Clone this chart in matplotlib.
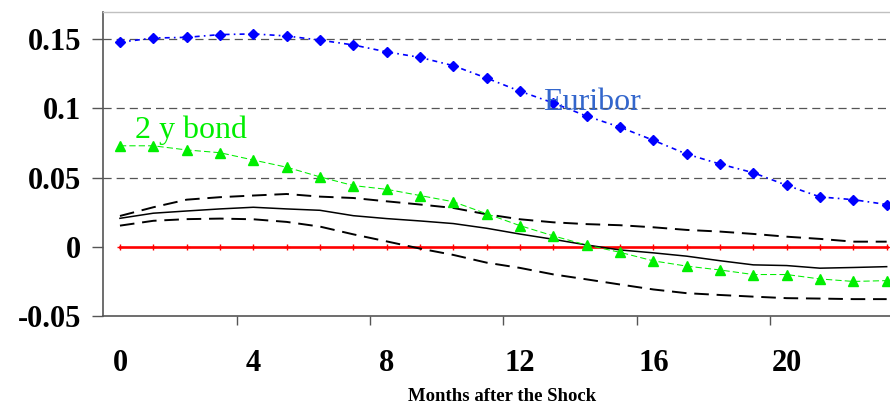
import matplotlib
matplotlib.use("Agg")
import matplotlib.pyplot as plt
import numpy as np

# Impulse responses over the 24 months following the shock
months = list(range(24))
x_tick_labels = ["0", "4", "8", "12", "16", "20"]
y_ticks = [-0.05, 0.0, 0.05, 0.1, 0.15]
y_tick_labels = ["-0.05", "0", "0.05", "0.1", "0.15"]

euribor = [0.148, 0.151, 0.1515, 0.1535, 0.154, 0.1525, 0.1495, 0.146, 0.141, 0.137,
           0.131, 0.122, 0.1125, 0.104, 0.0945, 0.0865, 0.077, 0.067, 0.0598, 0.0535,
           0.0444, 0.036, 0.034, 0.0305]
bond_2y = [0.073, 0.073, 0.070, 0.068, 0.0627, 0.0575, 0.0505, 0.0442, 0.0415, 0.037,
           0.0325, 0.0238, 0.0152, 0.0078, 0.0011, -0.0041, -0.0103, -0.0141, -0.0169,
           -0.0202, -0.0202, -0.0234, -0.0252, -0.0246]
response = [0.0205, 0.0242, 0.0258, 0.0273, 0.0285, 0.0273, 0.0263, 0.0224, 0.0203,
            0.0186, 0.0167, 0.0133, 0.0091, 0.0053, 0.0012, -0.0024, -0.0045, -0.0069,
            -0.0102, -0.0132, -0.0137, -0.0156, -0.0151, -0.0145]
upper_band = [0.0222, 0.0285, 0.034, 0.0358, 0.037, 0.0381, 0.0362, 0.0352, 0.0328,
              0.0305, 0.028, 0.0234, 0.0198, 0.0176, 0.0163, 0.0155, 0.014, 0.0121,
              0.0109, 0.0092, 0.0072, 0.0056, 0.0036, 0.0036]
lower_band = [0.0152, 0.0187, 0.0199, 0.0203, 0.0198, 0.0179, 0.0145, 0.0089, 0.0038,
              -0.0014, -0.006, -0.0116, -0.0154, -0.0201, -0.0237, -0.0274, -0.031,
              -0.0337, -0.035, -0.0362, -0.0373, -0.0376, -0.038, -0.038]
zero_line = [0.0] * 24

plt.rcParams["font.family"] = ["Liberation Serif", "DejaVu Serif"]

fig = plt.figure(figsize=(8.9, 4.07), dpi=100)
ax = fig.add_axes([103.3 / 890, (407 - 315.7) / 407, 1 - 103.3 / 890, (315.7 - 11.8) / 407])

ax.set_xlim(-0.5, 23.1)
ax.set_ylim(-0.05, 0.17)

# dashed horizontal gridlines
for yv in [0.05, 0.1, 0.15]:
    ax.axhline(yv, color="#555555", lw=0.9, linestyle=(0, (6.5, 4)), zorder=1)

ax.plot(months, zero_line, color="#ff0000", lw=1.9, marker="+", ms=4.5, mew=1.0, zorder=2)
ax.plot(months, upper_band, color="black", lw=1.4, linestyle=(0, (7.5, 4)), zorder=3)
ax.plot(months, lower_band, color="black", lw=1.4, linestyle=(0, (7.5, 4)), zorder=3)
ax.plot(months, response, color="black", lw=1.1, zorder=3)
ax.plot(months, bond_2y, color="#00ee00", lw=0.75, linestyle=(0, (6, 3)),
        marker="^", ms=7, markerfacecolor="#00ee00", markeredgecolor="#00ee00", zorder=4)
ax.plot(months, euribor, color="#0000ff", lw=1.2, linestyle=(0, (3, 2.5, 1, 2.5)),
        marker="D", ms=5, markerfacecolor="#0000ff", markeredgecolor="#0000ff", zorder=5)

ax.text(12.69, 0.0989, "Euribor", color="#3366cc", fontsize=23, va="baseline", ha="left", zorder=6)
ax.text(0.45, 0.0784, "2 y bond", color="#00ee00", fontsize=23, va="baseline", ha="left", zorder=6)

# axes styling
ax.spines["right"].set_visible(False)
ax.spines["top"].set_color("#c0c0c0")
ax.spines["top"].set_linewidth(1.0)
for side in ["left", "bottom"]:
    ax.spines[side].set_color("#555555")
    ax.spines[side].set_linewidth(1.2)

ax.set_yticks(y_ticks)
ax.set_yticklabels(y_tick_labels, fontsize=22, fontweight="bold")
ax.tick_params(axis="y", direction="out", length=8, width=1.0, color="#555555", pad=8)

ax.set_xticks([0, 4, 8, 12, 16, 20])
ax.set_xticklabels(x_tick_labels, fontsize=22, fontweight="bold")
ax.set_xticks([3.5, 7.5, 11.5, 15.5, 19.5], minor=True)
ax.tick_params(axis="x", which="major", length=0, pad=24)
ax.tick_params(axis="x", which="minor", direction="out", length=6.5, width=1.0, color="#555555")

fig.text(502 / 890, (407 - 396.5) / 407, "Months after the Shock", fontsize=13.5,
         fontweight="bold", ha="center", va="center")

fig.savefig("out.png", dpi=100)
